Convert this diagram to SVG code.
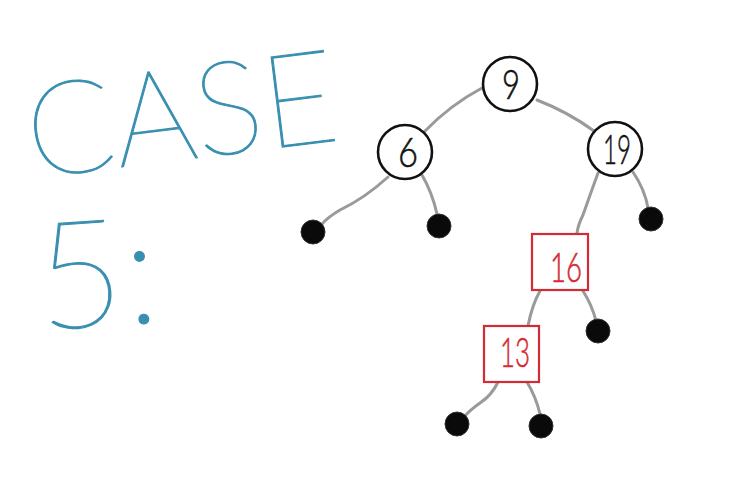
<svg xmlns="http://www.w3.org/2000/svg" width="729" height="484" viewBox="0 0 729 484">
<style>
.title{font-family:"Lato","Inter","DejaVu Sans",sans-serif;font-weight:100;fill:#3a8fb1;stroke:#3a8fb1;stroke-width:1.2}
.edge{fill:none;stroke:#9a9a9a;stroke-width:3;stroke-linecap:round}
.circ{fill:#fff;stroke:#111;stroke-width:2.6}
.box{fill:#fff;stroke:#d42a33;stroke-width:2.2}
.leaf{fill:#0a0a0a;stroke:#333;stroke-width:1}
.num{font-family:"Lato","Inter","DejaVu Sans",sans-serif;font-weight:300;font-size:42px;text-anchor:middle;stroke-width:0.6}
.blk{fill:#111;stroke:#111}
.red{fill:#d42a33;stroke:#d42a33}
</style>
<rect width="729" height="484" fill="#fff"/>
<g id="title">
<text class="title" x="32" y="178" font-size="130" textLength="312" lengthAdjust="spacingAndGlyphs" transform="rotate(-7 32 178)">CASE</text>
<text class="title" x="40" y="330" font-size="150" transform="rotate(-4 40 330)">5:</text>
</g>
<g id="connectors">
<path class="edge" d="M482,88 Q450,105 424,132"/>
<path class="edge" d="M537,100 Q568,112 594,131"/>
<path class="edge" d="M388,177 Q365,198 340,210 Q328,217 322,224"/>
<path class="edge" d="M422,175 Q432,192 437,214"/>
<path class="edge" d="M598,173 Q590,195 583,215 Q578,225 577,233"/>
<path class="edge" d="M633,172 Q645,190 648,208"/>
<path class="edge" d="M540,291 Q532,305 528,326"/>
<path class="edge" d="M583,291 Q592,305 596,321"/>
<path class="edge" d="M498,382 Q492,395 480,403 Q470,410 464,417"/>
<path class="edge" d="M527,382 Q536,397 540,414"/>
</g>
<g id="n9"><circle class="circ" cx="510" cy="84" r="27"/><text class="num blk" x="511" y="99" textLength="18" lengthAdjust="spacingAndGlyphs">9</text></g>
<g id="n6"><circle class="circ" cx="405" cy="152" r="27"/><text class="num blk" x="408" y="167" textLength="20" lengthAdjust="spacingAndGlyphs">6</text></g>
<g id="n19"><circle class="circ" cx="615" cy="149" r="27"/><text class="num blk" x="617" y="164" textLength="28" lengthAdjust="spacingAndGlyphs">19</text></g>
<g id="n16"><rect class="box" x="532" y="234" width="56" height="56"/><text class="num red" x="566" y="282" textLength="32" lengthAdjust="spacingAndGlyphs">16</text></g>
<g id="n13"><rect class="box" x="484" y="326" width="55" height="56"/><text class="num red" x="515" y="367" textLength="30" lengthAdjust="spacingAndGlyphs">13</text></g>
<g id="leaf1"><circle class="leaf" cx="313" cy="232" r="12"/></g>
<g id="leaf2"><circle class="leaf" cx="439" cy="226" r="12"/></g>
<g id="leaf3"><circle class="leaf" cx="651" cy="219" r="12"/></g>
<g id="leaf4"><circle class="leaf" cx="598" cy="331" r="12"/></g>
<g id="leaf5"><circle class="leaf" cx="457" cy="424" r="12"/></g>
<g id="leaf6"><circle class="leaf" cx="541" cy="426" r="12"/></g>
</svg>
